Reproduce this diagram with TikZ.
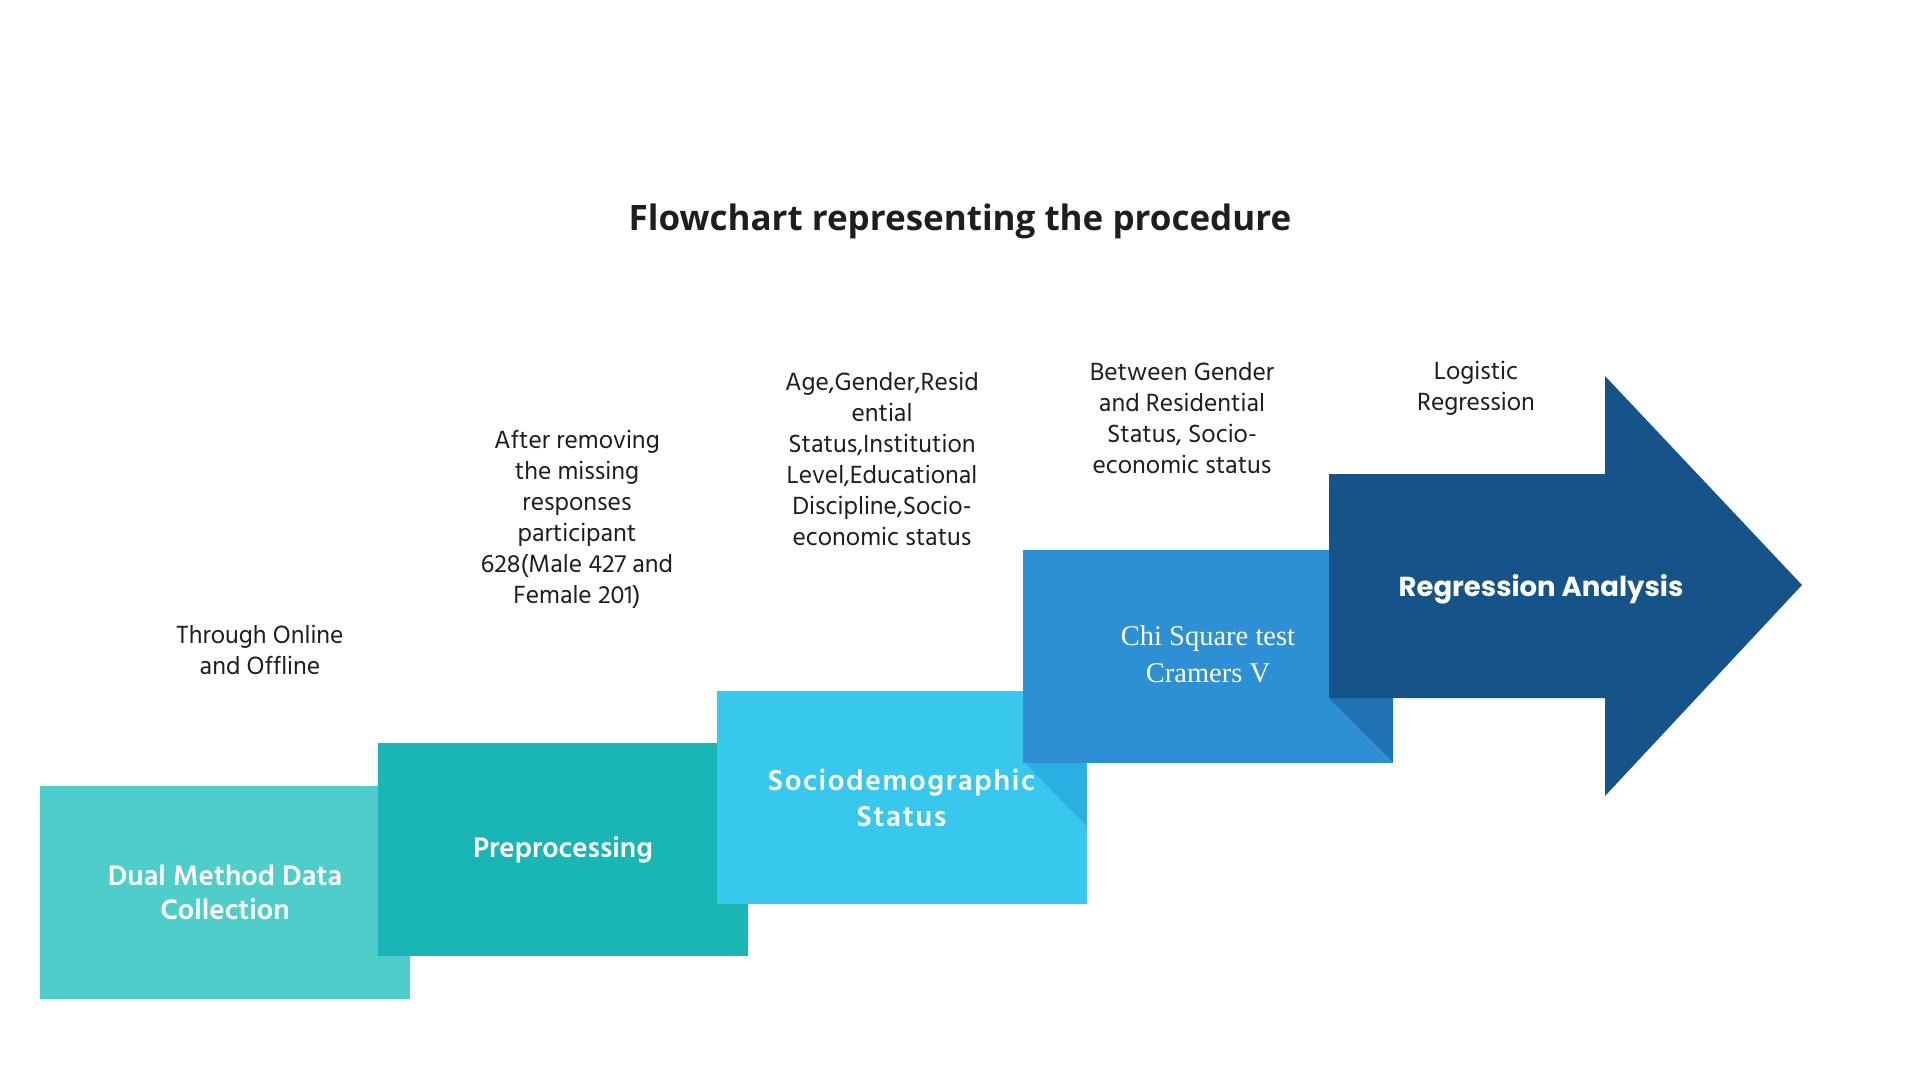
\documentclass[tikz,border=0pt]{standalone}
\usepackage{fontspec}
\setmainfont{Open Sans}
\newfontfamily\notefont{Hind Madurai}
\newfontfamily\widefont{Hind Madurai}[LetterSpace=5.5]
\newfontfamily\arrowfont{Poppins}
\newfontfamily\chifont{Liberation Serif}
\usetikzlibrary{positioning}

\definecolor{tealA}{HTML}{4ECDCA}
\definecolor{tealB}{HTML}{1AB5B5}
\definecolor{skyA}{HTML}{38C8EE}
\definecolor{skyAfold}{HTML}{2BAEE3}
\definecolor{blueA}{HTML}{2D90D5}
\definecolor{blueAfold}{HTML}{2271B4}
\definecolor{navyA}{HTML}{165388}
\definecolor{notegray}{HTML}{1E1E1E}

\tikzset{
  stepbox/.style={minimum width=370pt, minimum height=213pt, inner sep=0pt, align=center, text=white,
    font=\notefont\bfseries\fontsize{29}{34}\selectfont},
  notetext/.style={align=center, text=notegray, font=\notefont\fontsize{25.5}{31}\selectfont},
}

\begin{document}
\begin{tikzpicture}[x=1pt, y=-1pt]
    \useasboundingbox[fill=white] (0,0) rectangle (1920,1080);

    % Title
    \node[text=notegray, font=\bfseries\fontsize{35}{40}\selectfont] (title) at (960,221) {Flowchart representing the procedure};

    % Steps, left to right
    \node[stepbox, fill=tealA] (collect) at (225,892) {Dual Method Data\\Collection};
    \node[stepbox, fill=tealB] (prep) at (563,849.5) {Preprocessing};
    \node[stepbox, fill=skyA, font=\widefont\bfseries\fontsize{29.5}{36}\selectfont] (socio) at (901.5,797.5) {Sociodemographic\\Status};
    \fill[skyAfold] (1024,762) -- (socio.east |- 0,762) -- ++(0,64) -- cycle;
    \node[stepbox, fill=blueA, font=\chifont\fontsize{28.5}{37}\selectfont] (chi) at (1208,656) {\raisebox{3pt}{Chi Square test}\\\raisebox{3pt}{Cramers V}};
    \fill[blueAfold] (1329,698) coordinate (foldtop) -- (chi.east |- foldtop) -- (chi.south east) -- cycle;

    % Big arrow
    \fill[navyA] (1329,474) -- (1605,474) -- (1605,376) -- (1802,585) -- (1605,796) -- (1605,698) -- (1329,698) -- cycle;
    \node[text=white, font=\arrowfont\bfseries\fontsize{27.5}{32}\selectfont] (regr) at (1541,589) {Regression Analysis};

    % Notes above the steps
    \node[notetext] (online) at (260,650) {Through Online\\and Offline};
    \node[notetext] (missing) at (577,519) {After removing\\the missing\\responses\\participant\\628(Male 427 and\\Female 201)};
    \node[notetext] (vars) at (882,459) {Age,Gender,Resid\\ential\\Status,Institution\\Level,Educational\\Discipline,Socio-\\economic status};
    \node[notetext] (between) at (1182,418) {Between Gender\\and Residential\\Status, Socio-\\economic status};
    \node[notetext] (logit) at (1476,388) {Logistic\\Regression};
\end{tikzpicture}
\end{document}
